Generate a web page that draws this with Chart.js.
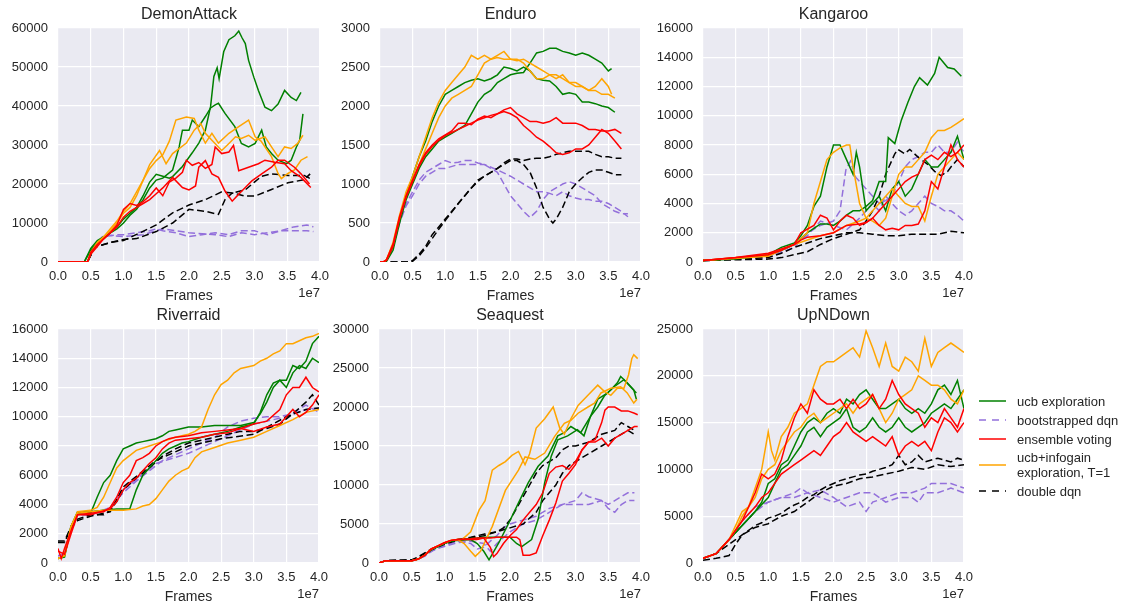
<!DOCTYPE html>
<html><head><meta charset="utf-8">
<script src="https://cdn.jsdelivr.net/npm/chart.js@4.4.0/dist/chart.umd.min.js"></script>
<style>
html,body{margin:0;padding:0;background:#fff;width:1127px;height:609px;overflow:hidden;font-family:"Liberation Sans",Arial,sans-serif;}
canvas{position:absolute;}
.leg{position:absolute;font-size:13px;color:#262626;line-height:15px;white-space:nowrap;}
svg{position:absolute;}
</style></head><body>
<script>
// ---------- labels ----------
const GAMES = ['DemonAttack','Enduro','Kangaroo','Riverraid','Seaquest','UpNDown'];
const METHOD_LABELS = ['ucb exploration','bootstrapped dqn','ensemble voting','ucb+infogain\nexploration, T=1','double dqn'];
const X_TICKS = [0,0.5,1,1.5,2,2.5,3,3.5,4];
const Y_MAX = [60000,3000,16000,16000,30000,25000];
const Y_STEP = [10000,500,2000,2000,5000,5000];

// ---------- data: [frames (1e7), score] ----------
const demonUcb = [
 [[0,0],[0.4,0],[0.5,3000],[0.6,5000],[0.7,6000],[0.8,7500],[0.9,9000],[1.0,11000],[1.1,12500],[1.2,14000],[1.3,17000],[1.4,20500],[1.5,22500],[1.6,22000],[1.7,21500],[1.75,21900],[1.9,24500],[2.05,28000],[2.15,30500],[2.25,33800],[2.33,39900],[2.38,47600],[2.43,49800],[2.46,47000],[2.53,53900],[2.61,57000],[2.7,58000],[2.76,59200],[2.81,57500],[2.86,56000],[2.91,51700],[2.99,47400],[3.06,44000],[3.16,39700],[3.26,38800],[3.36,40500],[3.46,44000],[3.56,42200],[3.64,41400],[3.71,43500]],
 [[0,0],[0.4,0],[0.5,3500],[0.6,5500],[0.7,6500],[0.8,7500],[0.9,8500],[1.0,10000],[1.1,12000],[1.2,13500],[1.3,16000],[1.4,19000],[1.5,21000],[1.6,21500],[1.75,23600],[1.85,29500],[1.9,33800],[2.0,33800],[2.05,36400],[2.15,34700],[2.25,37300],[2.33,39500],[2.4,40300],[2.45,40700],[2.55,38100],[2.7,34700],[2.8,30400],[2.91,29500],[3.01,30400],[3.11,33800],[3.18,29500],[3.26,27800],[3.36,26100],[3.49,25200],[3.56,26100],[3.64,29500],[3.69,31200],[3.74,38000]]
];
const demonBoot = [
 [[0,0],[0.45,0],[0.55,3500],[0.7,6500],[0.9,7000],[1.0,7000],[1.2,7500],[1.4,8000],[1.5,8500],[1.6,8000],[1.8,7500],[2.0,6500],[2.2,7000],[2.4,7500],[2.6,7000],[2.8,8000],[3.0,8000],[3.2,7000],[3.4,8000],[3.6,9000],[3.8,9500],[3.9,9000]],
 [[0,0],[0.45,0],[0.55,3500],[0.7,7000],[1.0,6500],[1.3,7000],[1.6,8500],[1.8,8000],[2.0,7500],[2.4,7000],[2.6,6500],[2.8,7500],[3.0,7000],[3.2,7500],[3.4,8000],[3.6,8000],[3.8,8000],[3.9,7800]]
];
const demonEns = [
 [[0,0],[0.45,0],[0.5,2500],[0.6,4500],[0.7,6000],[0.8,7500],[0.9,9500],[1.0,13500],[1.1,15000],[1.2,14500],[1.3,15500],[1.4,17000],[1.5,19000],[1.6,17000],[1.7,20500],[1.8,21500],[1.9,23000],[1.96,26100],[2.05,24800],[2.15,25500],[2.25,24000],[2.35,25000],[2.4,29500],[2.5,27800],[2.61,28200],[2.68,29900],[2.76,23400],[2.91,24300],[3.06,25200],[3.16,26100],[3.31,25600],[3.46,25200],[3.56,23400],[3.71,21700],[3.86,19100]],
 [[0,0],[0.45,0],[0.5,2000],[0.6,4000],[0.7,6000],[0.8,7500],[0.9,9000],[1.0,11500],[1.1,13000],[1.2,14000],[1.3,15000],[1.4,16000],[1.5,17500],[1.6,19000],[1.75,21700],[1.9,19100],[2.0,18500],[2.1,19500],[2.15,24300],[2.25,26000],[2.35,22600],[2.45,21700],[2.55,18200],[2.66,15600],[2.76,17400],[2.86,19100],[2.96,20800],[3.11,22600],[3.26,24300],[3.36,26100],[3.46,26100],[3.61,24300],[3.71,22600],[3.84,20000]]
];
const demonInfo = [
 [[0,0],[0.45,0],[0.5,2000],[0.6,4500],[0.7,6500],[0.8,8500],[0.9,10500],[1.0,13000],[1.1,15000],[1.2,18000],[1.3,21000],[1.4,24000],[1.5,26000],[1.6,27500],[1.7,31000],[1.8,36400],[1.96,37200],[2.08,36800],[2.15,33800],[2.25,30500],[2.35,33000],[2.45,30500],[2.61,33000],[2.76,34700],[2.91,36400],[3.01,32100],[3.1,31000],[3.26,27000],[3.36,22700],[3.41,21400],[3.51,22700],[3.61,23600],[3.71,26100],[3.81,27000]],
 [[0,0],[0.45,0],[0.5,2500],[0.6,5000],[0.7,6500],[0.8,8000],[0.9,10000],[1.0,12500],[1.1,14000],[1.2,17000],[1.3,21000],[1.4,25000],[1.55,28600],[1.65,25200],[1.75,27800],[1.96,30500],[2.08,33800],[2.18,35500],[2.25,33000],[2.35,31200],[2.5,28600],[2.61,30400],[2.71,32100],[2.8,31700],[2.91,32500],[3.01,31200],[3.16,32100],[3.26,29500],[3.36,27000],[3.46,29500],[3.56,29100],[3.66,30400],[3.74,32500]]
];
const demonDdqn = [
 [[0,0],[0.45,0],[0.55,3500],[0.6,4000],[0.8,5000],[1.0,5500],[1.24,7400],[1.5,9500],[1.75,12600],[2.0,14600],[2.25,16000],[2.5,18000],[2.66,17700],[2.86,18500],[3.0,20500],[3.11,22000],[3.26,22600],[3.51,22200],[3.76,22200],[3.85,21400]],
 [[0,0],[0.45,0],[0.55,3500],[0.6,4000],[0.8,5000],[1.0,5800],[1.2,6000],[1.5,7800],[1.75,10000],[2.0,13500],[2.25,13000],[2.45,12200],[2.55,16000],[2.66,17700],[2.86,16900],[3.01,16900],[3.26,18600],[3.51,20300],[3.76,21100],[3.85,22600]]
];

const enduroUcb = [
 [[0,0],[0.05,0],[0.1,20],[0.2,200],[0.3,550],[0.4,850],[0.5,1100],[0.6,1350],[0.7,1550],[0.8,1800],[0.9,2000],[1.0,2150],[1.1,2200],[1.2,2250],[1.3,2300],[1.4,2330],[1.5,2350],[1.6,2320],[1.7,2350],[1.8,2400],[1.9,2500],[2.0,2480],[2.1,2450],[2.2,2500],[2.3,2450],[2.4,2350],[2.5,2330],[2.6,2320],[2.7,2250],[2.8,2150],[2.9,2170],[3.0,2150],[3.1,2050],[3.2,2050],[3.3,2030],[3.4,2000],[3.5,1980],[3.6,1920]],
 [[0,0],[0.05,0],[0.1,10],[0.2,150],[0.3,500],[0.4,800],[0.5,1000],[0.6,1200],[0.7,1350],[0.8,1450],[0.9,1550],[1.0,1600],[1.1,1650],[1.2,1700],[1.3,1750],[1.4,1900],[1.5,2050],[1.6,2150],[1.7,2200],[1.8,2300],[1.9,2350],[2.0,2400],[2.1,2420],[2.2,2430],[2.3,2550],[2.4,2680],[2.5,2700],[2.6,2740],[2.7,2740],[2.8,2700],[2.9,2680],[3.0,2650],[3.1,2680],[3.2,2650],[3.3,2600],[3.4,2550],[3.5,2450],[3.55,2480]]
];
const enduroBoot = [
 [[0,0],[0.05,0],[0.1,20],[0.2,200],[0.3,520],[0.4,750],[0.5,900],[0.6,1050],[0.7,1150],[0.8,1200],[0.9,1250],[1.0,1300],[1.1,1270],[1.2,1280],[1.3,1300],[1.4,1300],[1.5,1270],[1.6,1250],[1.7,1200],[1.8,1150],[1.9,1000],[2.0,850],[2.1,750],[2.2,650],[2.3,570],[2.4,650],[2.5,800],[2.6,900],[2.7,950],[2.8,1000],[2.9,1030],[3.0,1000],[3.1,950],[3.2,900],[3.3,850],[3.4,750],[3.5,700],[3.6,650],[3.7,620],[3.8,620]],
 [[0,0],[0.05,0],[0.1,20],[0.2,190],[0.3,500],[0.4,720],[0.5,850],[0.6,1000],[0.7,1100],[0.8,1150],[0.9,1200],[1.0,1200],[1.2,1250],[1.4,1250],[1.6,1250],[1.8,1180],[2.0,1100],[2.1,1050],[2.2,1000],[2.3,950],[2.4,900],[2.5,900],[2.6,880],[2.7,850],[2.8,900],[2.9,850],[3.0,820],[3.1,800],[3.2,800],[3.3,780],[3.4,780],[3.5,750],[3.6,700],[3.7,650],[3.8,580]]
];
const enduroEns = [
 [[0,0],[0.05,0],[0.1,30],[0.2,230],[0.3,580],[0.4,850],[0.5,1050],[0.6,1250],[0.7,1400],[0.8,1500],[0.9,1580],[1.0,1630],[1.1,1680],[1.2,1780],[1.3,1780],[1.4,1760],[1.5,1830],[1.6,1870],[1.7,1850],[1.8,1900],[1.9,1950],[2.0,1980],[2.1,1900],[2.2,1850],[2.3,1800],[2.4,1800],[2.5,1780],[2.6,1800],[2.7,1850],[2.8,1780],[2.9,1780],[3.0,1780],[3.1,1750],[3.2,1700],[3.3,1700],[3.4,1680],[3.5,1680],[3.6,1700],[3.7,1650]],
 [[0,0],[0.05,0],[0.1,20],[0.2,200],[0.3,550],[0.4,830],[0.5,1030],[0.6,1230],[0.7,1380],[0.8,1480],[0.9,1560],[1.0,1620],[1.1,1660],[1.2,1700],[1.3,1740],[1.4,1780],[1.5,1820],[1.6,1850],[1.7,1880],[1.8,1900],[1.9,1930],[2.0,1900],[2.1,1850],[2.2,1750],[2.3,1680],[2.4,1600],[2.5,1550],[2.6,1480],[2.7,1400],[2.8,1380],[2.9,1400],[3.0,1450],[3.1,1450],[3.2,1500],[3.3,1600],[3.4,1700],[3.5,1650],[3.6,1550],[3.7,1450]]
];
const enduroInfo = [
 [[0,0],[0.05,0],[0.1,30],[0.2,250],[0.3,600],[0.4,900],[0.5,1100],[0.6,1350],[0.7,1600],[0.8,1850],[0.9,2050],[1.0,2200],[1.1,2300],[1.2,2400],[1.3,2500],[1.4,2650],[1.5,2600],[1.6,2650],[1.7,2600],[1.8,2650],[1.9,2700],[2.0,2600],[2.1,2600],[2.2,2550],[2.3,2450],[2.4,2350],[2.5,2350],[2.6,2400],[2.7,2350],[2.8,2400],[2.9,2300],[3.0,2300],[3.1,2250],[3.2,2200],[3.3,2250],[3.4,2350],[3.5,2250],[3.55,2150]],
 [[0,0],[0.05,0],[0.1,30],[0.2,220],[0.3,570],[0.4,850],[0.5,1050],[0.6,1250],[0.7,1450],[0.8,1650],[0.9,1850],[1.0,2000],[1.1,2100],[1.2,2150],[1.3,2200],[1.4,2250],[1.5,2400],[1.6,2550],[1.7,2600],[1.8,2620],[1.9,2600],[2.0,2600],[2.1,2580],[2.2,2600],[2.3,2550],[2.4,2500],[2.5,2450],[2.6,2400],[2.7,2400],[2.8,2350],[2.9,2300],[3.0,2250],[3.1,2250],[3.2,2200],[3.3,2200],[3.4,2150],[3.5,2150],[3.6,2100]]
];
const enduroDdqn = [
 [[0,0],[0.45,0],[0.5,20],[0.6,100],[0.7,200],[0.8,350],[0.9,450],[1.0,550],[1.1,650],[1.2,750],[1.3,850],[1.4,950],[1.5,1050],[1.6,1100],[1.7,1150],[1.8,1200],[1.9,1270],[2.0,1320],[2.1,1320],[2.2,1300],[2.3,1320],[2.4,1330],[2.5,1330],[2.6,1350],[2.7,1380],[2.8,1400],[2.9,1420],[3.0,1420],[3.1,1420],[3.2,1420],[3.3,1380],[3.4,1350],[3.5,1350],[3.6,1330],[3.7,1330]],
 [[0,0],[0.45,0],[0.5,10],[0.6,80],[0.7,180],[0.8,300],[0.9,420],[1.0,530],[1.1,640],[1.2,750],[1.3,850],[1.4,950],[1.5,1030],[1.6,1100],[1.7,1150],[1.8,1200],[1.9,1250],[2.0,1300],[2.1,1300],[2.2,1250],[2.3,1150],[2.4,950],[2.5,700],[2.6,550],[2.65,500],[2.7,550],[2.8,700],[2.9,900],[3.0,1000],[3.1,1080],[3.2,1150],[3.3,1180],[3.4,1180],[3.5,1150],[3.6,1120],[3.7,1120]]
];

const kangUcb = [
 [[0,100],[0.5,250],[1.0,450],[1.2,800],[1.4,1200],[1.5,1600],[1.6,2000],[1.7,2300],[1.8,2600],[1.9,2600],[2.0,2500],[2.1,2800],[2.2,3200],[2.3,3500],[2.4,3500],[2.5,3800],[2.6,4200],[2.7,5500],[2.8,5500],[2.84,8500],[2.94,8100],[3.04,9700],[3.14,10900],[3.24,12000],[3.32,12600],[3.44,12100],[3.55,12900],[3.62,14000],[3.75,13300],[3.85,13200],[3.96,12700]],
 [[0,100],[0.5,200],[1.0,500],[1.2,1000],[1.4,1300],[1.5,1800],[1.6,2500],[1.7,3800],[1.8,4500],[1.9,6500],[2.0,8000],[2.1,8000],[2.2,7000],[2.3,6000],[2.35,7500],[2.4,6500],[2.5,3500],[2.6,4000],[2.7,4500],[2.8,3500],[2.9,5000],[3.0,5500],[3.1,4500],[3.2,5000],[3.3,6000],[3.4,7000],[3.5,6500],[3.6,6500],[3.7,7000],[3.8,7500],[3.9,8600],[4.0,7000]]
];
const kangBoot = [
 [[0,100],[1.0,300],[1.4,1000],[1.6,2000],[1.8,2500],[2.0,2800],[2.1,3500],[2.19,6300],[2.26,6900],[2.34,5800],[2.4,5500],[2.5,5000],[2.6,4500],[2.7,4000],[2.8,4200],[2.9,4500],[3.0,5500],[3.1,6500],[3.2,7000],[3.3,7200],[3.4,7500],[3.5,7500],[3.6,8000],[3.7,7500],[3.8,7500],[3.9,8200],[4.0,7500]],
 [[0,100],[1.0,300],[1.4,1200],[1.6,1800],[1.8,2800],[2.0,2500],[2.2,2200],[2.4,3000],[2.5,3500],[2.6,4000],[2.7,3500],[2.8,4500],[2.9,4000],[3.0,3500],[3.1,3200],[3.2,3500],[3.3,4000],[3.4,4500],[3.5,4000],[3.6,3800],[3.7,3500],[3.8,3500],[3.9,3200],[4.0,2800]]
];
const kangEns = [
 [[0,100],[0.5,300],[1.0,600],[1.2,900],[1.4,1200],[1.5,1500],[1.6,1700],[1.8,1800],[2.0,2000],[2.2,2500],[2.4,2600],[2.5,2700],[2.6,3000],[2.7,3500],[2.8,4000],[2.9,4500],[3.0,5000],[3.1,5500],[3.2,5800],[3.3,6000],[3.4,7000],[3.5,7300],[3.6,7000],[3.7,7500],[3.8,7200],[3.9,7500],[4.0,8000]],
 [[0,100],[1.0,500],[1.2,800],[1.4,1200],[1.5,2000],[1.7,2500],[1.8,3200],[1.9,3000],[2.0,2200],[2.1,2800],[2.2,3200],[2.3,3000],[2.4,2500],[2.5,2700],[2.6,3000],[2.7,2500],[2.8,2200],[2.9,2300],[3.0,2200],[3.1,2500],[3.2,2500],[3.3,2600],[3.4,3500],[3.5,5500],[3.6,5000],[3.7,6500],[3.8,8000],[3.9,7000],[4.0,6500]]
];
const kangInfo = [
 [[0,100],[1.0,400],[1.4,1200],[1.6,2000],[1.7,4000],[1.8,5500],[1.9,7000],[2.0,7500],[2.1,7800],[2.2,8000],[2.25,8000],[2.3,6500],[2.4,4000],[2.5,3000],[2.6,2800],[2.7,2500],[2.8,3000],[2.9,4500],[3.0,6000],[3.1,6500],[3.2,6500],[3.3,7000],[3.4,7500],[3.5,8500],[3.6,9000],[3.7,9000],[3.8,9200],[3.9,9500],[4.0,9800]],
 [[0,100],[1.0,500],[1.4,1200],[1.6,1500],[1.8,1800],[2.0,2000],[2.2,2500],[2.4,2800],[2.5,3000],[2.6,3500],[2.7,4000],[2.8,4500],[2.9,5000],[3.0,4500],[3.1,4000],[3.2,3800],[3.3,3800],[3.4,2800],[3.5,4500],[3.6,6000],[3.7,6500],[3.8,7000],[3.9,7500],[4.0,7000]]
];
const kangDdqn = [
 [[0,100],[1.0,300],[1.2,600],[1.4,1000],[1.6,1300],[1.8,1600],[2.0,1800],[2.2,2000],[2.4,2000],[2.6,1900],[2.8,1800],[3.0,1800],[3.2,1900],[3.4,1900],[3.6,1900],[3.8,2100],[4.0,2000]],
 [[0,100],[1.0,200],[1.2,300],[1.4,500],[1.6,700],[1.8,1200],[2.0,1600],[2.2,1900],[2.4,2200],[2.5,2800],[2.6,3500],[2.7,4500],[2.8,6000],[2.94,7400],[2.99,7700],[3.09,7400],[3.17,7700],[3.24,7400],[3.34,7000],[3.44,6700],[3.55,6200],[3.65,5900],[3.75,6200],[3.8,6500],[3.9,7000],[4.0,6500]]
];

const riverUcb = [
 [[0,300],[0.1,500],[0.2,2500],[0.3,3500],[0.4,3500],[0.5,3400],[0.6,4500],[0.7,5500],[0.8,6000],[0.9,7000],[1.0,7800],[1.1,8000],[1.2,8200],[1.3,8300],[1.4,8400],[1.5,8500],[1.6,8700],[1.7,9000],[1.8,9100],[1.9,9200],[2.0,9300],[2.2,9300],[2.4,9400],[2.6,9400],[2.8,9400],[3.0,9600],[3.1,10200],[3.2,11000],[3.3,12000],[3.4,12500],[3.5,12000],[3.6,13000],[3.7,13500],[3.8,13300],[3.9,14000],[4.0,13700]],
 [[0,300],[0.1,400],[0.2,2500],[0.3,3400],[0.5,3500],[0.7,3600],[0.9,3700],[1.0,3700],[1.1,3700],[1.2,5000],[1.3,6000],[1.4,6500],[1.5,7000],[1.6,7500],[1.7,7800],[1.8,8000],[1.9,8200],[2.0,8300],[2.2,8600],[2.4,8800],[2.6,9000],[2.8,9300],[3.0,9500],[3.1,10300],[3.2,11500],[3.3,12300],[3.4,12500],[3.5,12500],[3.6,13500],[3.7,13300],[3.8,13800],[3.9,15000],[4.0,15500]]
];
const riverBoot = [
 [[0,500],[0.1,600],[0.2,2500],[0.3,3300],[0.5,3300],[0.8,3800],[1.0,4800],[1.2,5600],[1.4,6300],[1.6,7000],[1.8,7400],[2.0,7800],[2.2,8200],[2.4,8600],[2.6,9300],[2.8,9700],[3.0,9900],[3.2,10000],[3.4,10000],[3.6,10200],[3.8,10500],[4.0,10600]],
 [[0,500],[0.1,600],[0.2,2400],[0.3,3300],[0.5,3300],[0.8,3700],[1.0,5000],[1.5,6800],[2.0,7500],[2.5,8500],[3.0,9500],[3.5,10000],[3.8,10800],[4.0,10300]]
];
const riverEns = [
 [[0,1000],[0.05,300],[0.1,1000],[0.2,2200],[0.3,3300],[0.5,3400],[0.7,3500],[0.8,3800],[0.9,4500],[1.0,5500],[1.1,6000],[1.2,7000],[1.3,7200],[1.4,7500],[1.5,8000],[1.6,8300],[1.7,8500],[1.8,8600],[2.0,8700],[2.2,8900],[2.4,9000],[2.6,9100],[2.8,9200],[3.0,9500],[3.2,9700],[3.4,10500],[3.5,11500],[3.6,12000],[3.7,12000],[3.8,12700],[3.9,12000],[4.0,11700]],
 [[0,800],[0.1,600],[0.2,2000],[0.3,3300],[0.5,3300],[0.8,3700],[0.9,4200],[1.0,5000],[1.1,5500],[1.2,5800],[1.3,6300],[1.4,6800],[1.5,7200],[1.6,7800],[1.7,8200],[1.8,8400],[2.0,8500],[2.2,8600],[2.4,8800],[2.6,8900],[2.8,9200],[3.0,9000],[3.2,9300],[3.4,9500],[3.5,10000],[3.6,10500],[3.7,10000],[3.8,10300],[3.9,10800],[4.0,11500]]
];
const riverInfo = [
 [[0,300],[0.1,500],[0.2,2500],[0.3,3500],[0.5,3600],[0.6,3800],[0.7,4500],[0.8,5500],[0.9,6500],[1.0,7000],[1.2,7700],[1.4,8000],[1.6,8300],[1.8,8600],[2.0,8800],[2.1,9000],[2.2,9300],[2.3,10500],[2.4,11500],[2.5,12200],[2.6,12500],[2.7,13000],[2.8,13300],[2.9,13400],[3.0,13500],[3.1,13800],[3.2,14000],[3.3,14300],[3.4,14500],[3.5,15000],[3.6,15000],[3.7,15200],[3.8,15400],[3.9,15500],[4.0,15700]],
 [[0,300],[0.1,500],[0.2,2500],[0.3,3400],[0.5,3500],[0.7,3600],[1.0,3600],[1.2,3700],[1.3,3900],[1.4,4000],[1.5,4400],[1.6,5000],[1.7,5600],[1.8,6000],[1.9,6300],[2.0,6500],[2.1,7200],[2.2,7600],[2.4,7900],[2.6,8200],[2.8,8400],[3.0,8600],[3.2,9000],[3.4,9400],[3.6,9800],[3.8,10300],[4.0,10500]]
];
const riverDdqn = [
 [[0,1500],[0.1,1500],[0.2,2500],[0.3,3000],[0.5,3300],[0.7,3300],[0.8,3600],[0.9,4200],[1.0,5000],[1.2,5800],[1.4,6500],[1.6,7300],[1.8,7800],[2.0,8200],[2.2,8400],[2.4,8600],[2.6,8800],[2.8,9000],[3.0,9000],[3.2,9200],[3.4,9500],[3.6,10200],[3.8,11000],[3.9,11500],[4.0,10800]],
 [[0,1400],[0.1,1400],[0.2,2400],[0.3,2900],[0.5,3200],[0.8,3500],[1.0,5200],[1.5,7000],[2.0,8000],[2.5,8500],[3.0,8800],[3.5,10000],[3.8,10500],[4.0,10600]]
];

const seaUcb = [
 [[0,0],[0.1,300],[0.5,300],[0.6,500],[0.7,1000],[0.8,1700],[0.9,2100],[1.0,2500],[1.1,2800],[1.2,2900],[1.4,3000],[1.5,2500],[1.6,1500],[1.68,400],[1.83,2600],[1.98,5100],[2.13,7700],[2.28,10300],[2.43,12400],[2.58,13700],[2.73,16300],[2.83,16700],[2.93,17500],[3.08,16700],[3.23,18800],[3.34,20000],[3.44,21400],[3.54,22200],[3.64,23100],[3.69,23900],[3.79,23100],[3.89,22200],[3.93,21000]],
 [[0,0],[0.1,300],[0.5,300],[0.6,500],[0.7,1000],[0.8,1700],[0.9,2100],[1.0,2500],[1.1,2800],[1.2,3000],[1.5,3200],[1.6,3300],[1.8,3300],[2.0,3300],[2.1,2500],[2.18,2100],[2.33,3000],[2.43,5600],[2.53,10300],[2.63,13700],[2.73,15800],[2.88,16300],[3.03,17100],[3.13,16300],[3.23,18800],[3.34,21000],[3.49,21800],[3.59,22600],[3.74,23500],[3.84,22600],[3.93,21800]]
];
const seaBoot = [
 [[0,0],[0.1,300],[0.5,300],[0.6,500],[0.7,900],[0.8,1500],[0.9,1900],[1.0,2200],[1.2,2800],[1.4,2500],[1.5,1800],[1.6,2000],[1.7,2800],[1.8,3500],[1.9,4500],[2.0,5000],[2.2,5500],[2.4,6000],[2.6,7000],[2.8,7500],[3.0,8000],[3.1,9000],[3.2,8500],[3.4,8000],[3.5,7500],[3.6,8000],[3.7,8500],[3.8,9000],[3.9,9000]],
 [[0,0],[0.1,300],[0.5,300],[0.6,500],[0.7,900],[0.8,1500],[0.9,1900],[1.0,2100],[1.2,2600],[1.4,2800],[1.6,2500],[1.7,1500],[1.8,2500],[2.0,4000],[2.2,5000],[2.4,5500],[2.6,6500],[2.8,7500],[3.0,7500],[3.2,7500],[3.4,8000],[3.5,7000],[3.6,6500],[3.7,7500],[3.8,8000],[3.9,8000]]
];
const seaEns = [
 [[0,0],[0.1,300],[0.5,300],[0.6,500],[0.7,1000],[0.8,1800],[0.9,2200],[1.0,2600],[1.1,2900],[1.2,3000],[1.4,3100],[1.5,3200],[1.6,3200],[1.7,3200],[1.8,3300],[1.9,3300],[2.0,3300],[2.1,3300],[2.15,3000],[2.2,1000],[2.3,1000],[2.4,1300],[2.5,3500],[2.6,5500],[2.7,7700],[2.8,10500],[2.9,11500],[3.0,12600],[3.1,14500],[3.2,15500],[3.3,15800],[3.4,18000],[3.45,19600],[3.5,20000],[3.6,20000],[3.7,19500],[3.8,19500],[3.9,19200],[3.95,19000]],
 [[0,0],[0.1,300],[0.5,300],[0.6,500],[0.7,1000],[0.8,1800],[0.9,2200],[1.0,2600],[1.1,2900],[1.2,3000],[1.4,3000],[1.5,3000],[1.6,3200],[1.7,2000],[1.75,800],[1.8,1200],[1.9,2500],[2.0,3500],[2.1,4300],[2.2,5500],[2.3,6500],[2.4,7500],[2.5,9000],[2.6,11500],[2.7,12300],[2.8,12500],[2.9,12000],[3.0,13000],[3.1,14500],[3.2,15500],[3.3,15500],[3.4,16000],[3.5,15000],[3.6,16000],[3.7,16500],[3.8,17000],[3.9,17500],[3.95,17500]]
];
const seaInfo = [
 [[0,0],[0.1,300],[0.5,300],[0.6,500],[0.7,1000],[0.8,1800],[0.9,2200],[1.0,2600],[1.1,2900],[1.2,3000],[1.27,3000],[1.4,4000],[1.53,6800],[1.62,8000],[1.73,11900],[1.83,12500],[1.93,13000],[2.03,13800],[2.13,14300],[2.23,12600],[2.3,14000],[2.4,17300],[2.53,18500],[2.66,20000],[2.76,17300],[2.83,16500],[2.93,18500],[3.04,20200],[3.19,21500],[3.34,22800],[3.44,22000],[3.54,21500],[3.64,22400],[3.74,22400],[3.81,24100],[3.86,26200],[3.89,26700],[3.95,26200]],
 [[0,0],[0.1,300],[0.5,300],[0.6,500],[0.7,1000],[0.8,1800],[0.9,2200],[1.0,2600],[1.1,2900],[1.2,3000],[1.3,2500],[1.4,1500],[1.47,850],[1.55,1500],[1.73,4700],[1.93,9300],[2.13,11900],[2.23,13600],[2.38,13300],[2.53,14100],[2.68,16200],[2.83,17900],[2.93,18300],[3.04,19200],[3.19,20000],[3.29,20500],[3.39,21800],[3.54,22400],[3.69,22600],[3.79,21800],[3.89,20500],[3.94,21000]]
];
const seaDdqn = [
 [[0,0],[0.1,300],[0.5,400],[0.6,800],[0.8,1800],[1.0,2500],[1.2,3000],[1.4,3300],[1.6,3700],[1.8,4000],[1.9,4500],[2.0,5500],[2.1,7000],[2.2,8500],[2.3,10000],[2.4,11500],[2.5,12500],[2.6,13000],[2.7,13500],[2.8,14500],[2.9,15000],[3.0,15000],[3.2,15500],[3.4,16500],[3.6,17000],[3.7,18000],[3.8,17500],[3.9,17000]],
 [[0,0],[0.1,300],[0.5,400],[0.6,700],[0.8,1700],[1.0,2400],[1.2,2900],[1.4,3200],[1.6,3500],[1.8,4000],[2.0,4500],[2.2,5000],[2.4,6500],[2.5,8000],[2.6,9000],[2.7,10000],[2.8,11500],[2.9,12500],[3.0,13000],[3.1,13500],[3.2,14000],[3.4,15000],[3.6,16000],[3.8,17000],[3.9,16500]]
];

const upUcb = [
 [[0,500],[0.2,1000],[0.4,2500],[0.6,4000],[0.8,5500],[0.9,6500],[1.0,8500],[1.1,9000],[1.2,10500],[1.3,11000],[1.4,12500],[1.5,14000],[1.6,15000],[1.7,15500],[1.8,15000],[1.9,16000],[2.0,16500],[2.1,16000],[2.2,17500],[2.3,17000],[2.4,18000],[2.5,18500],[2.6,17500],[2.7,16500],[2.8,16500],[2.9,17000],[3.0,17500],[3.1,16500],[3.2,16000],[3.3,16500],[3.4,16000],[3.5,17000],[3.6,18500],[3.7,19000],[3.8,18000],[3.9,19500],[4.0,16500]],
 [[0,500],[0.2,1000],[0.4,2500],[0.6,4000],[0.8,5500],[1.0,7000],[1.1,8500],[1.2,10000],[1.3,10500],[1.4,11500],[1.5,12500],[1.6,14000],[1.7,14500],[1.8,13500],[1.9,14500],[2.0,15000],[2.1,15500],[2.2,16500],[2.3,14500],[2.4,14000],[2.5,14500],[2.6,15500],[2.7,14500],[2.8,14000],[2.9,14500],[3.0,15500],[3.1,14500],[3.2,14000],[3.3,14500],[3.4,15000],[3.5,16000],[3.6,16500],[3.7,17000],[3.8,16500],[3.9,17500],[4.0,18500]]
];
const upBoot = [
 [[0,500],[0.2,1000],[0.4,2500],[0.6,4000],[0.8,5500],[1.0,6500],[1.2,7000],[1.4,7500],[1.5,8000],[1.6,7500],[1.8,7800],[2.0,7000],[2.2,6000],[2.4,6500],[2.5,5500],[2.6,6500],[2.8,7000],[3.0,7500],[3.2,7500],[3.4,8000],[3.5,8500],[3.6,8500],[3.8,8500],[4.0,8000]],
 [[0,500],[0.2,1000],[0.4,2500],[0.6,4500],[0.8,6000],[1.0,6500],[1.2,7000],[1.4,7000],[1.6,7500],[1.8,7000],[2.0,6500],[2.2,7000],[2.4,7500],[2.6,7500],[2.8,6500],[3.0,7000],[3.2,7000],[3.3,6500],[3.4,7500],[3.6,7500],[3.8,8000],[4.0,7500]]
];
const upEns = [
 [[0,500],[0.2,1000],[0.4,2500],[0.6,4500],[0.8,7500],[0.9,9500],[1.0,9000],[1.1,9500],[1.2,11000],[1.3,13500],[1.4,15500],[1.5,17000],[1.6,16000],[1.7,18500],[1.8,17500],[1.9,17000],[2.0,17000],[2.1,17500],[2.2,16500],[2.3,17500],[2.4,16500],[2.5,17000],[2.6,18000],[2.7,16500],[2.8,17500],[2.9,19500],[3.0,18000],[3.1,17000],[3.2,16500],[3.3,16000],[3.4,14500],[3.5,15500],[3.6,15000],[3.7,16500],[3.8,15500],[3.9,14500],[4.0,16500]],
 [[0,500],[0.2,1000],[0.4,2500],[0.6,4500],[0.8,6000],[0.9,7000],[1.0,7500],[1.1,8500],[1.2,9500],[1.3,10000],[1.4,10500],[1.5,11000],[1.6,11500],[1.7,12000],[1.8,11500],[1.9,12500],[2.0,13500],[2.1,14000],[2.2,15000],[2.3,14000],[2.4,13500],[2.5,13000],[2.6,13500],[2.7,13000],[2.8,12500],[2.9,13500],[3.0,11500],[3.1,12500],[3.2,13000],[3.3,12500],[3.4,13000],[3.5,12000],[3.6,14000],[3.7,15500],[3.8,15000],[3.9,14000],[4.0,15000]]
];
const upInfo = [
 [[0,500],[0.2,1000],[0.4,2500],[0.5,4000],[0.6,5500],[0.7,6000],[0.8,8000],[0.9,10000],[1.0,14000],[1.05,12000],[1.1,11000],[1.2,13500],[1.3,14500],[1.4,16000],[1.5,16500],[1.6,17000],[1.7,19000],[1.8,21000],[1.9,21500],[2.0,21500],[2.1,22000],[2.2,22500],[2.3,23000],[2.4,22000],[2.5,24800],[2.6,23000],[2.7,21000],[2.8,23500],[2.9,21000],[3.0,20500],[3.1,22000],[3.2,21500],[3.3,20500],[3.4,24000],[3.5,21000],[3.6,22500],[3.7,23000],[3.8,23500],[3.9,23000],[4.0,22500]],
 [[0,500],[0.2,1000],[0.4,2500],[0.5,3500],[0.6,5000],[0.8,7000],[0.9,9000],[1.0,10000],[1.1,10500],[1.2,12000],[1.3,13000],[1.4,14000],[1.5,14500],[1.6,15500],[1.7,16000],[1.8,15000],[1.9,15500],[2.0,16000],[2.1,16500],[2.2,17000],[2.3,16000],[2.4,17000],[2.5,17500],[2.6,18000],[2.7,16500],[2.8,15000],[2.9,16000],[3.0,17500],[3.1,18000],[3.2,18500],[3.3,20000],[3.4,19500],[3.5,19000],[3.6,19000],[3.7,18500],[3.8,17500],[3.9,17000],[4.0,18500]]
];
const upDdqn = [
 [[0,500],[0.2,1000],[0.4,2000],[0.5,2500],[0.6,3000],[0.7,3500],[0.8,4000],[0.9,4300],[1.0,4800],[1.1,5000],[1.2,5300],[1.3,5800],[1.4,6200],[1.5,6500],[1.6,7000],[1.7,7300],[1.8,7800],[1.9,8200],[2.0,8500],[2.1,8800],[2.2,9000],[2.3,9200],[2.4,9400],[2.5,9500],[2.6,9800],[2.7,10000],[2.8,10200],[2.9,10500],[3.0,11500],[3.1,10500],[3.2,10800],[3.3,11500],[3.4,10800],[3.5,11000],[3.6,11200],[3.7,11000],[3.8,10800],[3.9,11200],[4.0,11000]],
 [[0,300],[0.2,500],[0.4,800],[0.5,2000],[0.6,3000],[0.8,3800],[1.0,4200],[1.2,5000],[1.4,5500],[1.6,6500],[1.8,7500],[2.0,8200],[2.2,8500],[2.4,9000],[2.6,9200],[2.8,9500],[3.0,9800],[3.2,10200],[3.4,10000],[3.6,10500],[3.8,10300],[4.0,10500]]
];

const PANEL_DATA = [
 [demonUcb, demonBoot, demonEns, demonInfo, demonDdqn],
 [enduroUcb, enduroBoot, enduroEns, enduroInfo, enduroDdqn],
 [kangUcb, kangBoot, kangEns, kangInfo, kangDdqn],
 [riverUcb, riverBoot, riverEns, riverInfo, riverDdqn],
 [seaUcb, seaBoot, seaEns, seaInfo, seaDdqn],
 [upUcb, upBoot, upEns, upInfo, upDdqn]
];

// ---------- styles / layout ----------
const COLORS = ['#008000','#9370DB','#FF0000','#FFA500','#000000'];
const DASHED = [false,true,false,false,true];
const DRAW_ORDER = [2,3,0,4,1]; // first = on top
const BOXES = [ // plot area left, top, right, bottom
 [58,28,322,262],[380,28,643,262],[703,28,966,262],
 [58,329,321,563],[379,329,643,563],[703,329,966,563]
];
const PADL=60, PADR=14, PADT=25, PADB=46;
const TXT = '#262626';
const FONT = '"Liberation Sans", Arial, sans-serif';

const deco = {
 id:'deco',
 beforeDraw(chart){
   const {ctx, chartArea:a} = chart;
   ctx.save(); ctx.fillStyle='#EAEAF2';
   ctx.fillRect(a.left,a.top,a.right-a.left,a.bottom-a.top); ctx.restore();
 },
 afterDraw(chart, args, opts){
   const {ctx, chartArea:a} = chart;
   const mid=(a.left+a.right)/2;
   ctx.save(); ctx.fillStyle=TXT; ctx.textBaseline='middle';
   ctx.textAlign='center'; ctx.font='16px '+FONT;
   ctx.fillText(opts.title, mid, a.top-13);
   ctx.font='14px '+FONT;
   ctx.fillText('Frames', mid, a.bottom+34);
   ctx.textAlign='right'; ctx.font='13px '+FONT;
   ctx.fillText('1e7', a.right, a.bottom+31);
   ctx.restore();
 }
};

GAMES.forEach((g, i) => {
 const [L,T,R,B] = BOXES[i];
 const cv = document.createElement('canvas');
 const W = (R-L)+PADL+PADR, H = (B-T)+PADT+PADB;
 cv.width=W; cv.height=H;
 cv.style.left=(L-PADL)+'px'; cv.style.top=(T-PADT)+'px';
 cv.style.width=W+'px'; cv.style.height=H+'px';
 document.body.appendChild(cv);
 const datasets=[];
 DRAW_ORDER.forEach(m => {
   PANEL_DATA[i][m].forEach(run => {
     datasets.push({
       data: run.map(p => ({x:p[0], y:p[1]})),
       borderColor: COLORS[m], borderWidth: 1.5,
       borderDash: DASHED[m] ? [7,3.5] : [],
       pointRadius: 0, fill: false, tension: 0
     });
   });
 });
 new Chart(cv, {
   type:'line',
   data:{datasets},
   plugins:[deco],
   options:{
     responsive:false, animation:false, devicePixelRatio:1,
     layout:{padding:{left:0,right:PADR,top:PADT,bottom:0}},
     plugins:{legend:{display:false}, tooltip:{enabled:false}, deco:{title:g}},
     scales:{
       x:{type:'linear', min:0, max:4,
          afterBuildTicks(s){ s.ticks = X_TICKS.map(v=>({value:v})); },
          afterFit(s){ s.height=PADB; },
          grid:{color:'#FFFFFF', lineWidth:1.2, drawTicks:false},
          border:{display:false},
          ticks:{padding:7, color:TXT, font:{size:13, family:FONT}, maxRotation:0, callback:v=>Number(v).toFixed(1)}
       },
       y:{type:'linear', min:0, max:Y_MAX[i],
          afterFit(s){ s.width=PADL; },
          grid:{color:'#FFFFFF', lineWidth:1.2, drawTicks:false},
          border:{display:false},
          ticks:{stepSize:Y_STEP[i], padding:10, color:TXT, font:{size:13, family:FONT}, callback:v=>String(v)}
       }
     }
   }
 });
});

// ---------- legend ----------
const LEG_Y = [401,420,439,465,491];
METHOD_LABELS.forEach((lab, m) => {
 const y = LEG_Y[m];
 const svg = document.createElementNS('http://www.w3.org/2000/svg','svg');
 svg.setAttribute('width','30'); svg.setAttribute('height','6');
 svg.style.left='978px'; svg.style.top=(y-3)+'px';
 const ln = document.createElementNS('http://www.w3.org/2000/svg','line');
 ln.setAttribute('x1','1'); ln.setAttribute('x2','28'); ln.setAttribute('y1','3'); ln.setAttribute('y2','3');
 ln.setAttribute('stroke', COLORS[m]); ln.setAttribute('stroke-width','1.5');
 if (DASHED[m]) ln.setAttribute('stroke-dasharray','7 6');
 svg.appendChild(ln); document.body.appendChild(svg);
 const d = document.createElement('div');
 d.className='leg';
 const lines = lab.split('\n');
 d.innerHTML = lines.join('<br>');
 d.style.left='1017px';
 d.style.top=(y - lines.length*15/2)+'px';
 document.body.appendChild(d);
});
</script>
</body></html>
